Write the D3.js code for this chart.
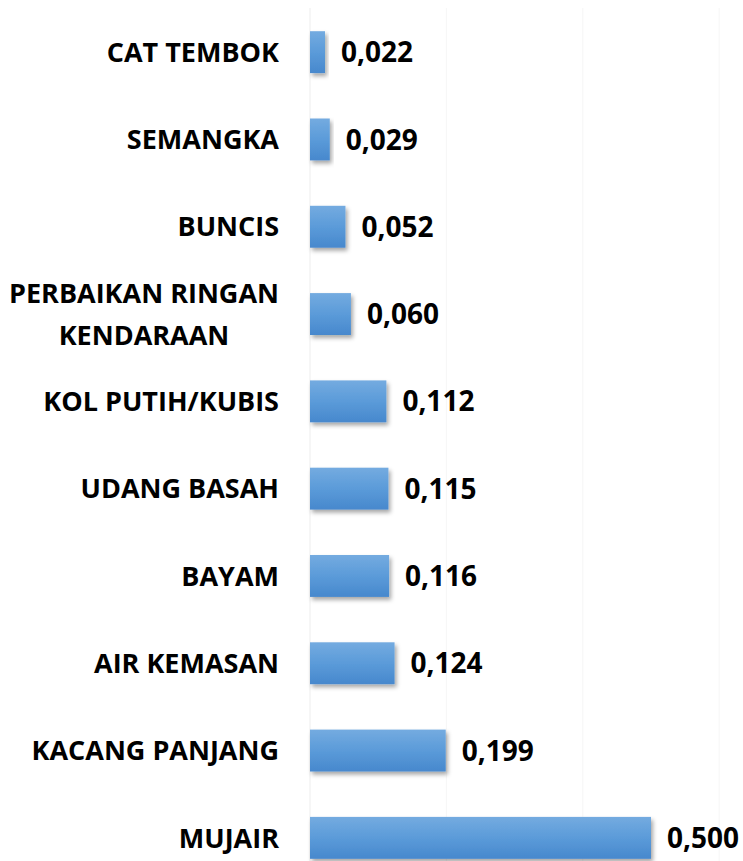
<!DOCTYPE html>
<html>
<head>
<meta charset="utf-8">
<script src="https://cdn.jsdelivr.net/npm/d3@7"></script>
<style>
    body { margin: 0; background: #ffffff; }
    svg { display: block; }
</style>
</head>
<body>
<div id="chart"></div>
<script>

// categories top to bottom, multi-line labels split with "|"
let categories = [
    "CAT TEMBOK",
    "SEMANGKA",
    "BUNCIS",
    "PERBAIKAN RINGAN|KENDARAAN",
    "KOL PUTIH/KUBIS",
    "UDANG BASAH",
    "BAYAM",
    "AIR KEMASAN",
    "KACANG PANJANG",
    "MUJAIR"
];
let values = [0.022, 0.029, 0.052, 0.060, 0.112, 0.115, 0.116, 0.124, 0.199, 0.500];
let gridTicks = [0, 0.2, 0.4, 0.6];

let width = 743;
let height = 861;
let fontFamily = "'Open Sans', 'Liberation Sans', sans-serif";

let svg = d3.select("#chart").append("svg")
    .attr("width", width)
    .attr("height", height);

let defs = svg.append("defs");

let grad = defs.append("linearGradient")
    .attr("id", "barGrad")
    .attr("x1", 0).attr("y1", 0)
    .attr("x2", 0).attr("y2", 1);
grad.append("stop").attr("offset", "0%").attr("stop-color", "#74abe0");
grad.append("stop").attr("offset", "50%").attr("stop-color", "#5b9bd9");
grad.append("stop").attr("offset", "100%").attr("stop-color", "#4788cd");

let shadow = defs.append("filter")
    .attr("id", "barShadow")
    .attr("x", "-10%").attr("y", "-20%")
    .attr("width", "130%").attr("height", "160%");
shadow.append("feDropShadow")
    .attr("dx", 2)
    .attr("dy", 3)
    .attr("stdDeviation", 2)
    .attr("flood-color", "#000000")
    .attr("flood-opacity", 0.35);

let x = d3.scaleLinear()
    .domain([0, 0.6])
    .range([310, 310 + 0.6 * 682]);

let y = d3.scaleBand()
    .domain(categories)
    .range([8.5, 8.5 + 87.3 * categories.length])
    .paddingInner(0.52)
    .paddingOuter(0.26);

// very faint vertical gridlines
svg.append("g")
    .selectAll("line")
    .data(gridTicks)
    .join("line")
    .attr("x1", d => x(d))
    .attr("x2", d => x(d))
    .attr("y1", 8)
    .attr("y2", height)
    .attr("stroke", d => d === 0 ? "#ededed" : "#f6f6f6")
    .attr("stroke-width", 1);

// bars
svg.append("g")
    .selectAll("rect")
    .data(values)
    .join("rect")
    .attr("x", x(0))
    .attr("y", (d, i) => y(categories[i]))
    .attr("width", d => x(d) - x(0))
    .attr("height", y.bandwidth())
    .attr("fill", "url(#barGrad)")
    .attr("filter", "url(#barShadow)");

// value labels
svg.append("g")
    .selectAll("text")
    .data(values)
    .join("text")
    .attr("x", d => x(d) + 16)
    .attr("y", (d, i) => y(categories[i]) + y.bandwidth() / 2)
    .attr("dy", "0.36em")
    .attr("font-family", fontFamily)
    .attr("font-size", "28px")
    .attr("font-weight", "700")
    .attr("fill", "#000000")
    .text(d => d.toFixed(3).replace(".", ","));

// category labels, right aligned block, lines centred inside the block
let labelRight = 279;
let lineHeight = 42;
let gLabels = svg.append("g");

categories.forEach(cat => {
    let lines = cat.split("|");
    let cy = y(cat) + y.bandwidth() / 2;
    let group = gLabels.append("g");
    let texts = lines.map((line, k) => group.append("text")
        .attr("y", cy + (k - (lines.length - 1) / 2) * lineHeight)
        .attr("dy", "0.36em")
        .attr("font-family", fontFamily)
        .attr("font-size", "27px")
        .attr("font-weight", "700")
        .attr("fill", "#000000")
        .text(line));
    let maxW = d3.max(texts, t => t.node().getComputedTextLength());
    texts.forEach(t => t
        .attr("text-anchor", "middle")
        .attr("x", labelRight - maxW / 2));
});

</script>
</body>
</html>
